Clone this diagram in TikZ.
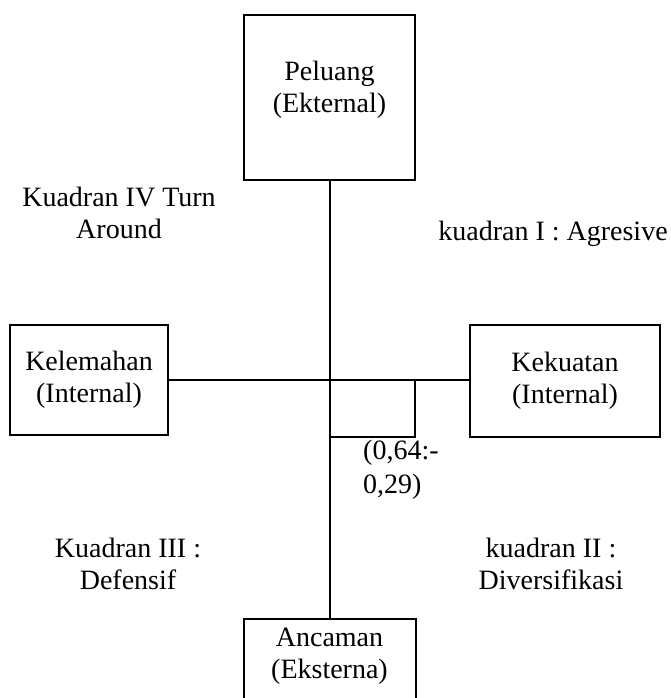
\documentclass[tikz,border=0pt]{standalone}
\usepackage{fontspec}
\setmainfont{Liberation Serif}
\usetikzlibrary{positioning}

\begin{document}
\begin{tikzpicture}
  [x=1pt,y=1pt,
kotak/.style={rectangle,draw=black,line width=2pt,inner sep=0pt},
teks/.style={font=\fontsize{28}{31.5}\selectfont,align=center,inner sep=0pt}]

  \useasboundingbox (0,0) rectangle (670,-698);
  \clip (0,0) rectangle (670,-698);

  \node[kotak,minimum width=171pt,minimum height=165pt] (peluang) at (329.5,-97.5) {};
  \node[teks,anchor=north] (tpeluang) [below=47pt of peluang.north] {Peluang\\(Ekternal)};
  \node[kotak,teks,minimum width=158pt,minimum height=110pt] (kelemahan) at (89,-380)
                            {Kelemahan\\(Internal)};
  \node[kotak,teks,minimum width=190pt,minimum height=112pt] (kekuatan) at (565,-381)
                            {Kekuatan\\(Internal)};
  \node[kotak,anchor=north,minimum width=172pt,minimum height=130pt] (ancaman) at (329.5,-618) {};
  \node[teks,anchor=north] (tancaman) [below=10pt of ancaman.north] {Ancaman\\(Eksterna)};

  \node[teks,anchor=north] (kuadran4) at (119,-187) {Kuadran IV Turn\\Around};
  \node[teks,anchor=base] (kuadran1) at (553,-240) {kuadran I : Agresive};
  \node[teks,anchor=north] (kuadran3) at (128,-538) {Kuadran III :\\Defensif};
  \node[teks,anchor=north] (kuadran2) at (551,-538) {kuadran II :\\Diversifikasi};

  \coordinate (pusat) at (peluang.south |- kelemahan.east);
  \coordinate (sudut) at (415,-437);
  \node[teks,font=\fontsize{28}{34}\selectfont,align=left,anchor=north west] (nilai) at (363,-440)
                            {(0,64:-\\0,29)};

\draw [line width=2pt] (peluang.south) -- (peluang.south |- ancaman.north);
\draw [line width=2pt] (kelemahan.east) -- (kelemahan.east -| kekuatan.west);
\draw [line width=2pt] (pusat) rectangle (sudut);

\end{tikzpicture}
\end{document}
